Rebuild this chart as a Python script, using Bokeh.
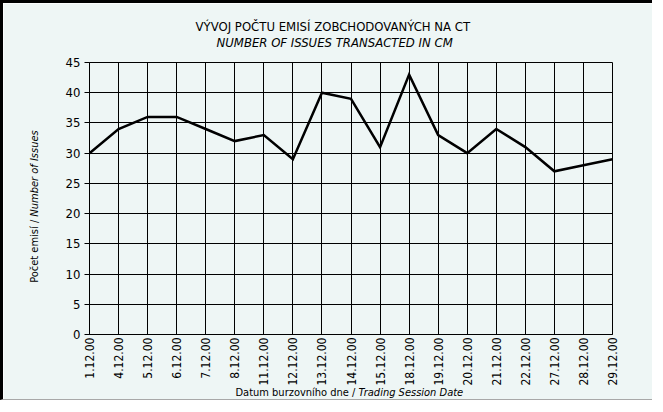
import math
from bokeh.plotting import figure
from bokeh.models import Range1d, FixedTicker, Label
from bokeh.embed import file_html
from bokeh.resources import INLINE

dates = ["1.12.00", "4.12.00", "5.12.00", "6.12.00", "7.12.00", "8.12.00", "11.12.00",
         "12.12.00", "13.12.00", "14.12.00", "15.12.00", "18.12.00", "19.12.00", "20.12.00",
         "21.12.00", "22.12.00", "27.12.00", "28.12.00", "29.12.00"]
issues = [30, 34, 36, 36, 34, 32, 33, 29, 40, 39, 31, 43, 33, 30, 34, 31, 27, 28, 29]
y_ticks = [0, 5, 10, 15, 20, 25, 30, 35, 40, 45]

title_cz = "VÝVOJ POČTU EMISÍ ZOBCHODOVANÝCH NA CT"
title_en = "NUMBER OF ISSUES TRANSACTED IN CM"
ylab_cz = "Počet emisí / "
ylab_en = "Number of Issues"
xlab_cz = "Datum burzovního dne / "
xlab_en = "Trading Session Date"

FONT = "DejaVu Sans Condensed"
BG = "#eef6f5"

xs = list(range(len(dates)))

p = figure(width=652, height=400, output_backend="svg", toolbar_location=None,
           x_range=Range1d(0, len(dates) - 1), y_range=Range1d(0, 45),
           min_border_left=86, min_border_right=43, min_border_top=59,
           min_border_bottom=69)
p.styles = {"border-left": "3px solid black", "border-top": "3px solid black",
            "border-bottom": "1px solid #a8a8a8"}
p.background_fill_color = BG
p.border_fill_color = BG
p.outline_line_color = "black"
p.outline_line_width = 1
p.title.visible = False

p.line(xs, issues, line_color="black", line_width=2.5, line_join="miter")

# axes
p.xaxis.ticker = FixedTicker(ticks=xs)
p.xaxis.major_label_overrides = {i: d for i, d in enumerate(dates)}
p.xaxis.major_label_orientation = math.pi / 2
p.xaxis.major_tick_out = 0
p.xaxis.major_tick_in = 0
p.xaxis.minor_tick_line_color = None
p.xaxis.axis_line_color = "black"
p.xaxis.major_label_text_font = FONT
p.xaxis.major_label_text_font_size = "12px"
p.xaxis.major_label_text_color = "black"
p.xaxis.major_label_standoff = 3

p.yaxis.ticker = FixedTicker(ticks=y_ticks)
p.yaxis.major_tick_out = 5
p.yaxis.major_tick_in = 0
p.yaxis.minor_tick_line_color = None
p.yaxis.axis_line_color = "black"
p.yaxis.major_tick_line_color = "black"
p.yaxis.major_label_text_font = FONT
p.yaxis.major_label_text_font_size = "13px"
p.yaxis.major_label_text_color = "black"
p.yaxis.major_label_standoff = 4

p.xgrid.ticker = FixedTicker(ticks=xs)
p.ygrid.ticker = FixedTicker(ticks=y_ticks)
p.grid.grid_line_color = "black"
p.grid.grid_line_width = 1
p.grid.grid_line_alpha = 1

# Texts are Labels in data units, added to side panels so they are not clipped
# to the frame (the panel only reserves room; the position comes from the data units).
p.add_layout(Label(x=3.65, y=50.96, text=title_cz, text_align="left", text_baseline="middle",
                   text_font=FONT, text_font_size="13px", text_color="black"), "above")
p.add_layout(Label(x=4.37, y=48.31, text=title_en, text_align="left", text_baseline="middle",
                   text_font=FONT, text_font_size="13px", text_font_style="italic",
                   text_color="black"), "above")

p.add_layout(Label(x=-1.89, y=19.5, text=ylab_cz, angle=math.pi / 2, text_align="right",
                   text_baseline="middle", text_font=FONT, text_font_size="11px",
                   text_color="black"), "left")
p.add_layout(Label(x=-1.89, y=19.5, text=ylab_en, angle=math.pi / 2, text_align="left",
                   text_baseline="middle", text_font=FONT, text_font_size="11px",
                   text_font_style="italic", text_color="black"), "left")

p.add_layout(Label(x=9.26, y=-9.6, text=xlab_cz, text_align="right", text_baseline="middle",
                   text_font=FONT, text_font_size="11px", text_color="black"), "above")
p.add_layout(Label(x=9.26, y=-9.6, text=xlab_en, text_align="left", text_baseline="middle",
                   text_font=FONT, text_font_size="11px", text_font_style="italic",
                   text_color="black"), "below")

open("out.html", "w").write(file_html(p, INLINE))
